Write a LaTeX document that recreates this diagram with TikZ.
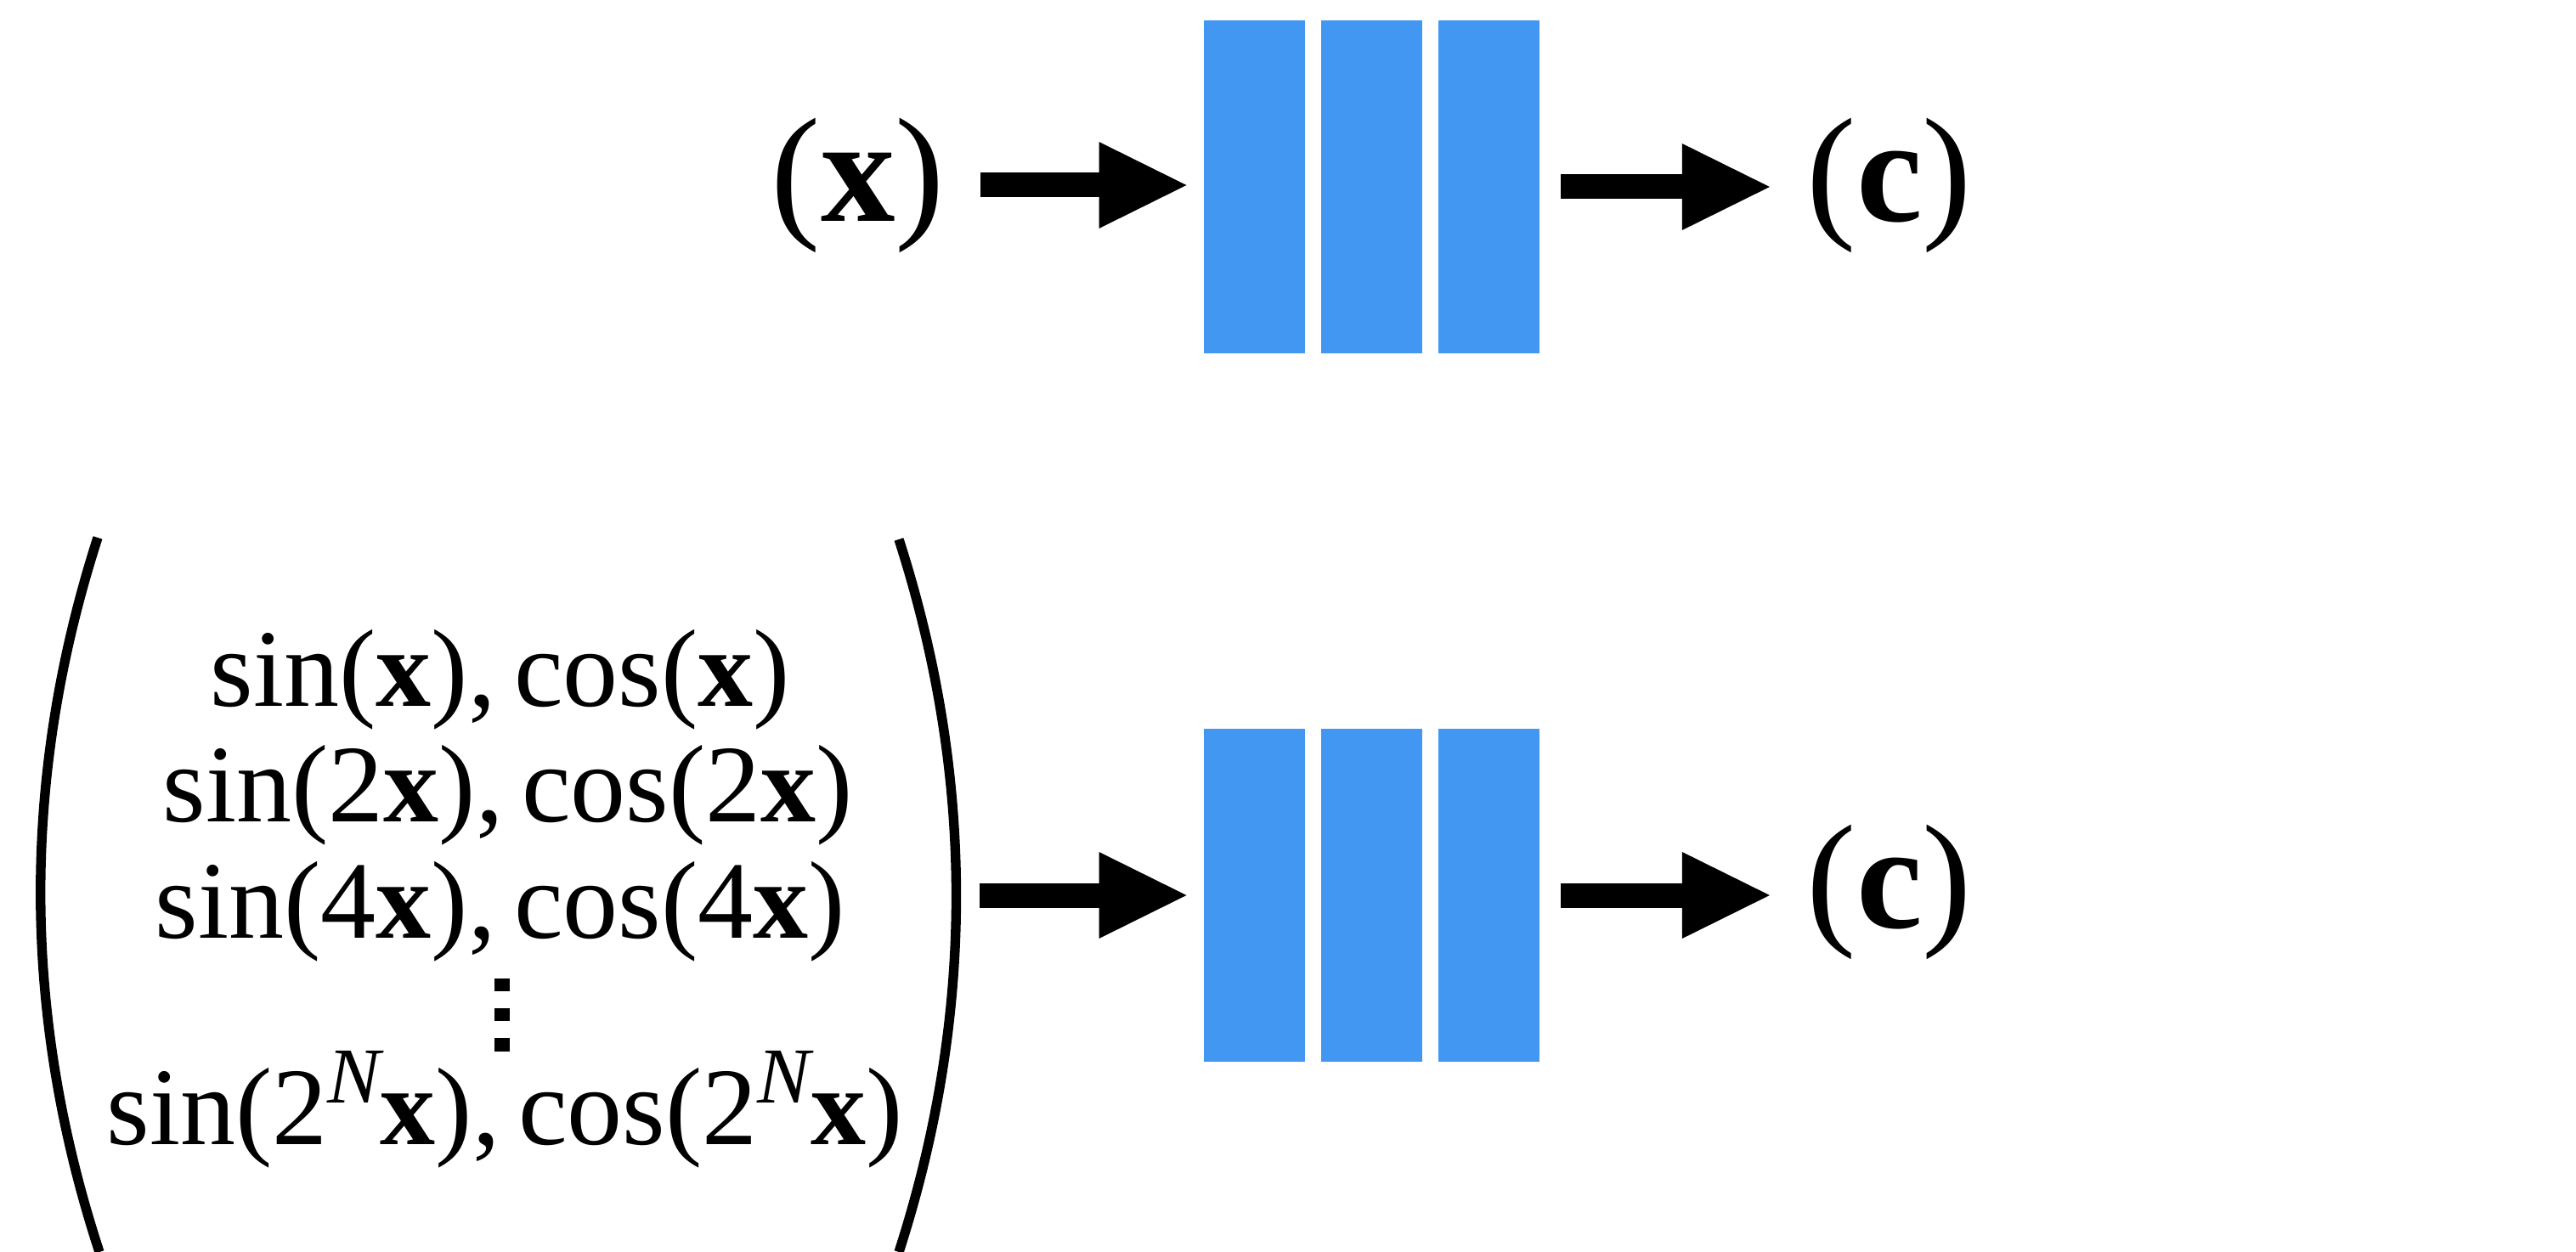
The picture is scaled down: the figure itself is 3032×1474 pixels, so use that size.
\documentclass[tikz,border=0pt]{standalone}
\usepackage{fontspec}
\setmainfont{Liberation Serif}
\usetikzlibrary{arrows.meta}
\definecolor{barblue}{RGB}{66,151,243}
\newcommand{\supN}{\raisebox{0.37em}{\fontsize{28}{28}\selectfont\itshape N}}
\begin{document}
\begin{tikzpicture}[x=0.3pt,y=-0.3pt,
  bar/.style={fill=barblue, draw=none, minimum width=35.7pt, minimum height=117.6pt, inner sep=0pt, outer sep=0pt},
  bigarrow/.style={line width=8.7pt, -{Triangle[length=30.9pt,width=30.6pt,line width=0pt]}},
  biglabel/.style={font=\fontsize{52.5}{55}\selectfont, inner sep=0pt, outer sep=0pt},
  feat/.style={font=\fontsize{39}{41}\selectfont, inner sep=0pt, anchor=base},
  bigparen/.style={line width=3.4pt},
  dotmark/.style={fill=black, draw=none}
]
\useasboundingbox (0,0) rectangle (3032,1474);

% ---------- top row ----------
\node[biglabel] (xin) at (1010,218) {(\textbf{x})};
\node[bar] (a1) at (1476,220) {};
\node[bar] (a2) at (1614,220) {};
\node[bar] (a3) at (1752,220) {};
\node[biglabel] (cA) at (2224,218) {(\textbf{c})};
\draw[bigarrow, shorten <=12.6pt, shorten >=6pt] (xin.east) -- (a1.west |- xin.east);
\draw[bigarrow, shorten <=7.6pt, shorten >=13.2pt] (a3.east) -- (cA.west |- a3.east);

% ---------- bottom row ----------
\node[inner sep=0pt, outer sep=0pt, minimum width=327pt, minimum height=252.3pt] (vec) at (587,1054) {};
\draw[bigparen] (115,633) .. controls (25,913) and (25,1193) .. (117,1474);
\draw[bigparen] (1058,635) .. controls (1148,915) and (1148,1195) .. (1058,1474);
\node[feat] (l1) at (589,831) {sin(\textbf{x}),\,cos(\textbf{x})};
\node[feat] (l2) at (598,967) {sin(2\textbf{x}),\,cos(2\textbf{x})};
\node[feat] (l3) at (589,1104) {sin(4\textbf{x}),\,cos(4\textbf{x})};
\fill[dotmark] (582,1152) rectangle (600,1167);
\fill[dotmark] (582,1187) rectangle (600,1202);
\fill[dotmark] (582,1222) rectangle (600,1238);
\node[feat] (l5) at (594,1347) {sin(2\supN\textbf{x}),\,cos(2\supN\textbf{x})};

\node[bar] (b1) at (1476,1054) {};
\node[bar] (b2) at (1614,1054) {};
\node[bar] (b3) at (1752,1054) {};
\node[biglabel] (cB) at (2224,1050) {(\textbf{c})};
\draw[bigarrow, shorten <=6.3pt, shorten >=6pt] (vec.east) -- (b1.west |- vec.east);
\draw[bigarrow, shorten <=7.6pt, shorten >=13.2pt] (b3.east) -- (cB.west |- b3.east);
\end{tikzpicture}
\end{document}
